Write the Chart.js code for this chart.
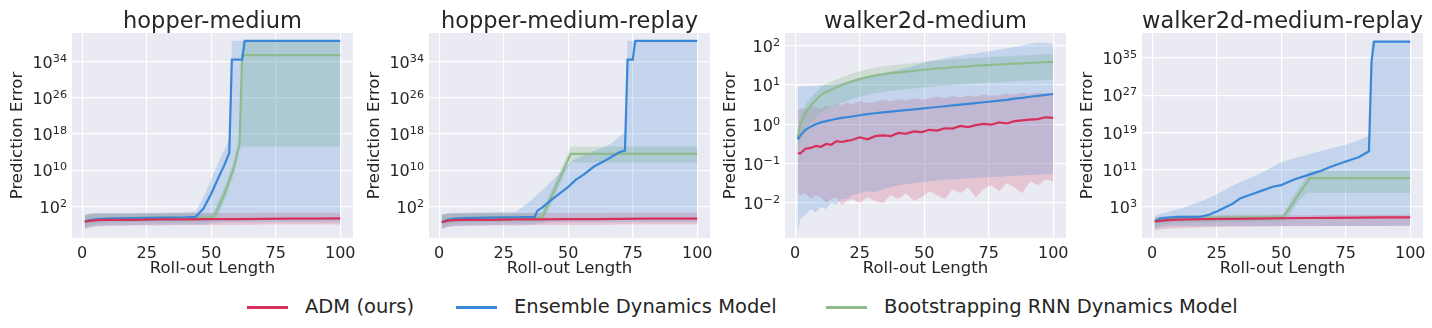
<!DOCTYPE html>
<html>
<head>
<meta charset="utf-8">
<script src="https://cdn.jsdelivr.net/npm/chart.js@4.4.0/dist/chart.umd.min.js"></script>
<style>
  body { margin: 0; background: #fff; width: 1432px; height: 328px; position: relative; overflow: hidden;
         font-family: 'DejaVu Sans', sans-serif; color: #262626; }
  .panel { position: absolute; top: 0; height: 290px; }
  .key { position: absolute; top: 295px; height: 24px; line-height: 24px; font-size: 19.5px; white-space: nowrap; }
  .swatch { position: absolute; top: 306px; width: 41px; height: 2.5px; }
</style>
</head>
<body>
<div class="panel" style="left:0px;width:373px"><canvas id="c1" width="373" height="290"></canvas></div>
<div class="panel" style="left:357px;width:373px"><canvas id="c2" width="373" height="290"></canvas></div>
<div class="panel" style="left:713px;width:373px"><canvas id="c3" width="373" height="290"></canvas></div>
<div class="panel" style="left:1070px;width:373px"><canvas id="c4" width="373" height="290"></canvas></div>

<div class="swatch" style="left:247px;background:#d6305a"></div>
<div class="key" style="left:305px">ADM (ours)</div>
<div class="swatch" style="left:456px;background:#3a87d7"></div>
<div class="key" style="left:514px">Ensemble Dynamics Model</div>
<div class="swatch" style="left:826px;background:#8fbc8f"></div>
<div class="key" style="left:884px">Bootstrapping RNN Dynamics Model</div>

<script>
// ============================== DATA ==============================
const xTicks = [0, 25, 50, 75, 100];
const hopperYTicks = [1e2, 1e10, 1e18, 1e26, 1e34];
const wmYTicks = [1e-2, 1e-1, 1e0, 1e1, 1e2];
const wmrYTicks = [1e3, 1e11, 1e19, 1e27, 1e35];

// hopper-medium
const hmRedX = [1, 3, 6, 10, 20, 30, 40, 50, 60, 70, 80, 90, 100];
const hmRedMean = [0.04, 0.063, 0.089, 0.1, 0.11, 0.13, 0.14, 0.16, 0.16, 0.18, 0.2, 0.2, 0.22];
const hmRedHi = [1.6, 2.5, 3.2, 3.2, 3.2, 3.2, 3.5, 3.5, 3.5, 4, 4, 4, 4];
const hmRedLo = [0.001, 0.0025, 0.004, 0.005, 0.0063, 0.0063, 0.008, 0.008, 0.008, 0.01, 0.01, 0.01, 0.01];
const hmBlueX = [1, 3, 6, 10, 20, 30, 40, 44, 47, 50, 53, 55, 57, 58, 62, 63, 100];
const hmBlueMean = [0.04, 0.1, 0.16, 0.2, 0.25, 0.32, 0.4, 0.5, 32, 6.3e4, 4e8, 1e11, 6.3e13, 2.5e34, 2.5e34, 3.4e38, 3.4e38];
const hmBlueHi = [1, 2.5, 3.2, 3.2, 3.2, 4, 5, 8, 1e4, 1e8, 1e12, 3.2e14, 5e16, 3.4e38, 3.4e38, 3.4e38, 3.4e38];
const hmBlueLo = [0.001, 0.0032, 0.005, 0.0063, 0.008, 0.01, 0.01, 0.01, 0.01, 0.016, 0.025, 0.032, 0.032, 0.032, 0.032, 0.032, 0.032];
const hmGreenX = [1, 3, 6, 10, 20, 30, 40, 50, 51, 53, 56, 59, 61, 62, 100];
const hmGreenMean = [0.04, 0.1, 0.16, 0.2, 0.25, 0.32, 0.35, 0.4, 0.5, 100, 1e6, 1e11, 1e16, 2.5e35, 2.5e35];
const hmGreenHi = [1, 2, 2.5, 2.5, 2.5, 2.5, 2.8, 3.2, 6.3, 3.2e3, 3.2e7, 3.2e12, 3.2e17, 3.4e38, 3.4e38];
const hmGreenLo = [0.0025, 0.01, 0.016, 0.025, 0.032, 0.04, 0.04, 0.04, 0.05, 3.2, 3.2e4, 3.2e9, 3.2e14, 1.6e15, 1.6e15];

// hopper-medium-replay
const hmrRedX = [1, 3, 6, 10, 20, 30, 40, 50, 60, 70, 80, 90, 100];
const hmrRedMean = [0.032, 0.063, 0.089, 0.1, 0.11, 0.13, 0.14, 0.16, 0.16, 0.18, 0.2, 0.2, 0.2];
const hmrRedHi = [1.6, 2.5, 3.2, 3.2, 3.2, 3.2, 3.5, 3.5, 3.5, 4, 4, 4, 4];
const hmrRedLo = [0.001, 0.0025, 0.004, 0.005, 0.0063, 0.0063, 0.008, 0.008, 0.008, 0.01, 0.01, 0.01, 0.01];
const hmrBlueX = [1, 3, 6, 10, 20, 30, 37, 38, 40, 43, 47, 50, 53, 56, 60, 64, 67, 70, 72, 73, 75, 76, 100];
const hmrBlueMean = [0.032, 0.1, 0.2, 0.25, 0.32, 0.4, 0.5, 10, 63, 1.6e3, 1e5, 2e6, 7.9e7, 1e9, 6.3e10, 1e12, 1e13, 1e14, 2e14, 2.5e34, 2.5e34, 3.4e38, 3.4e38];
const hmrBlueHi = [1.6, 3.2, 4, 4, 5, 6.3, 1e4, 5e4, 3.2e5, 2e7, 3.2e9, 2e11, 4e12, 2e13, 1.6e14, 1.3e15, 1e16, 3.2e17, 2.5e18, 3.4e38, 3.4e38, 3.4e38, 3.4e38];
const hmrBlueLo = [0.001, 0.0032, 0.005, 0.0063, 0.008, 0.01, 0.01, 0.016, 0.02, 0.032, 0.032, 0.032, 0.032, 0.032, 0.032, 0.032, 0.032, 0.032, 0.032, 0.032, 0.032, 0.032, 0.032];
const hmrGreenX = [1, 3, 6, 10, 20, 30, 39, 40, 43, 46, 49, 51, 100];
const hmrGreenMean = [0.032, 0.1, 0.2, 0.25, 0.32, 0.35, 0.4, 0.5, 3.2e3, 2e7, 1.3e11, 4e13, 4e13];
const hmrGreenHi = [1, 2, 2.5, 2.5, 3.2, 3.2, 4, 6.3, 1e5, 6.3e8, 4e12, 1.6e15, 1.6e15];
const hmrGreenLo = [0.0025, 0.01, 0.016, 0.025, 0.032, 0.032, 0.04, 0.032, 100, 6.3e5, 4e9, 5e11, 5e11];

// walker2d-medium
const wmX = [1, 2, 4, 6, 8, 10, 12, 14, 16, 18, 20, 22, 25, 28, 31, 34, 37, 40, 43, 46, 49, 52, 55, 58, 61, 64, 67, 70, 73, 76, 79, 82, 85, 88, 91, 94, 97, 100];
const wmRedMean = [0.186, 0.182, 0.24, 0.251, 0.282, 0.269, 0.316, 0.302, 0.372, 0.355, 0.38, 0.398, 0.468, 0.417, 0.501, 0.525, 0.501, 0.603, 0.575, 0.661, 0.631, 0.724, 0.692, 0.794, 0.776, 0.912, 0.851, 0.955, 1.02, 0.977, 1.12, 1.05, 1.2, 1.26, 1.32, 1.35, 1.51, 1.45];
const wmRedHi = [2.24, 2.6, 2.4, 2.9, 2.7, 2.5, 3.0, 2.8, 3.3, 3.1, 3.6, 3.2, 3.9, 3.5, 3.7, 4.2, 3.8, 4.3, 4.0, 4.6, 4.2, 4.5, 5.0, 4.6, 5.2, 4.8, 5.4, 5.0, 5.7, 5.3, 5.5, 6.0, 5.6, 6.3, 5.8, 6.5, 6.1, 6.3];
const wmRedLo = [0.02, 0.0158, 0.0178, 0.0126, 0.0158, 0.0141, 0.01, 0.0126, 0.0141, 0.0089, 0.0112, 0.0126, 0.01, 0.0141, 0.0112, 0.01, 0.0158, 0.0126, 0.0178, 0.0112, 0.0141, 0.02, 0.0158, 0.0126, 0.0224, 0.0178, 0.0251, 0.0141, 0.0224, 0.0282, 0.02, 0.0316, 0.0251, 0.0178, 0.0355, 0.0282, 0.0398, 0.0355];
const wmBlueMean = [0.407, 0.525, 0.724, 0.871, 1.0, 1.12, 1.2, 1.29, 1.38, 1.45, 1.51, 1.58, 1.7, 1.82, 1.91, 2.0, 2.09, 2.19, 2.29, 2.4, 2.51, 2.63, 2.75, 2.88, 3.02, 3.16, 3.31, 3.47, 3.63, 3.8, 3.98, 4.17, 4.47, 4.68, 5.01, 5.25, 5.62, 5.89];
const wmBlueHi = [8.91, 9.12, 9.33, 9.12, 9.55, 9.77, 10, 9.77, 10.5, 11.2, 12.0, 13.2, 15.1, 16.6, 18.6, 20, 21.9, 24.0, 26.9, 30.2, 35.5, 39.8, 43.7, 47.9, 52.5, 55.0, 60.3, 63.1, 69.2, 72.4, 79.4, 85.1, 91.2, 100, 112, 120, 117, 112];
const wmBlueLo = [0.00178, 0.00398, 0.00501, 0.00708, 0.00562, 0.00794, 0.00708, 0.01, 0.0089, 0.0126, 0.0126, 0.0158, 0.0178, 0.02, 0.0191, 0.0224, 0.0251, 0.0282, 0.0302, 0.0316, 0.0339, 0.0355, 0.0372, 0.0389, 0.0398, 0.0407, 0.0427, 0.0437, 0.0447, 0.0457, 0.0468, 0.0479, 0.049, 0.0501, 0.0513, 0.0525, 0.0537, 0.055];
const wmGreenMean = [0.447, 1, 2.0, 3.02, 4.17, 5.62, 6.61, 7.59, 8.71, 9.77, 11.0, 12.3, 14.1, 15.8, 17.4, 18.6, 20.0, 20.9, 21.9, 22.9, 24.0, 25.1, 26.3, 26.9, 28.2, 28.8, 29.5, 30.9, 31.6, 32.4, 33.1, 33.9, 34.7, 35.5, 36.3, 37.2, 38.0, 38.0];
const wmGreenHi = [0.71, 1.58, 3.16, 4.79, 6.61, 8.91, 10.5, 12.0, 13.8, 15.5, 17.4, 19.5, 22.4, 25.1, 27.5, 29.5, 31.6, 33.1, 34.7, 36.3, 38.0, 39.8, 41.7, 42.7, 44.7, 45.7, 46.8, 49.0, 50.1, 51.3, 52.5, 53.7, 55.0, 56.2, 57.5, 58.9, 60.3, 60.3];
const wmGreenLo = [0.159, 0.355, 0.71, 1.07, 1.48, 2.0, 2.35, 2.69, 3.09, 3.47, 3.9, 4.37, 5.0, 5.62, 6.17, 6.61, 7.1, 7.4, 7.8, 8.1, 8.5, 8.9, 9.3, 9.55, 10.0, 10.2, 10.5, 11.0, 11.2, 11.5, 11.7, 12.0, 12.3, 12.6, 12.9, 13.2, 13.5, 13.5];

// walker2d-medium-replay
const wmrRedX = [1, 3, 6, 10, 20, 30, 40, 50, 60, 70, 80, 90, 100];
const wmrRedMean = [0.5, 0.79, 1.12, 1.41, 1.78, 2.0, 2.24, 2.82, 3.16, 3.55, 3.98, 4.17, 4.47];
const wmrRedHi = [3.2, 4, 5, 6.3, 7.9, 10, 10, 12.6, 12.6, 15.8, 15.8, 15.8, 17.8];
const wmrRedLo = [0.0063, 0.01, 0.016, 0.02, 0.032, 0.04, 0.045, 0.05, 0.056, 0.063, 0.063, 0.071, 0.079];
const wmrBlueX = [1, 3, 6, 10, 15, 19, 22, 25, 28, 31, 34, 38, 42, 47, 50, 55, 60, 65, 70, 75, 80, 84, 85, 86, 100];
const wmrBlueMean = [0.63, 2.5, 4, 5.6, 5.6, 6.3, 16, 79, 500, 3.2e3, 5e4, 3.2e5, 2e6, 2e7, 4e7, 6.3e8, 5e9, 4e10, 5e11, 5e12, 4e13, 7.9e14, 2e34, 3.4e38, 3.4e38];
const wmrBlueHi = [10, 25, 63, 250, 2e3, 1.3e4, 6.3e4, 4e5, 3.2e6, 2.5e7, 1.6e8, 1.6e9, 1.3e10, 4e11, 3.2e12, 2.5e13, 1.3e14, 7.9e14, 4e15, 2e16, 1.6e17, 2e18, 3.4e38, 3.4e38, 3.4e38];
const wmrBlueLo = [0.016, 0.032, 0.05, 0.063, 0.063, 0.063, 0.063, 0.063, 0.063, 0.063, 0.063, 0.063, 0.063, 0.063, 0.063, 0.063, 0.063, 0.063, 0.063, 0.063, 0.063, 0.063, 0.063, 0.063, 0.063];
const wmrGreenX = [1, 3, 6, 10, 20, 30, 40, 50, 51, 54, 57, 60, 61, 100];
const wmrGreenMean = [0.63, 1.58, 2.24, 2.82, 3.55, 4, 4.47, 5, 7.1, 1.6e3, 6.3e5, 1.6e8, 1.3e9, 1.3e9];
const wmrGreenHi = [3.2, 6.3, 8.9, 11.2, 14.1, 15.8, 17.8, 20, 32, 4e4, 1.6e7, 6.3e9, 4e10, 4e10];
const wmrGreenLo = [0.032, 0.126, 0.2, 0.28, 0.35, 0.4, 0.45, 0.5, 0.63, 63, 2.5e4, 7.9e5, 7.9e5, 7.9e5];

// ============================== STYLE ==============================
const RED = '#d6305a', BLUE = '#3a87d7', GREEN = '#8fbc8f';
const RED_BAND = 'rgba(214,48,90,0.2)', BLUE_BAND = 'rgba(58,135,215,0.22)', GREEN_BAND = 'rgba(143,188,143,0.3)';
const FONT = "'DejaVu Sans', sans-serif";

Chart.defaults.font.family = FONT;
Chart.defaults.color = '#262626';

function pts(xs, ys) {
    return xs.map((x, i) => ({x: x, y: ys[i]}));
}

// upper edge fills down to the lower edge pushed right after it
function bandSets(xs, lo, hi, color) {
    return [
        {data: pts(xs, hi), borderWidth: 0, pointRadius: 0, fill: '+1', backgroundColor: color, order: 2},
        {data: pts(xs, lo), borderWidth: 0, pointRadius: 0, fill: false, order: 2}
    ];
}

function lineSet(xs, ys, color, order) {
    return {data: pts(xs, ys), borderColor: color, borderWidth: 2.2, pointRadius: 0, fill: false, order: order, tension: 0};
}

const plotBg = {
    id: 'plotBg',
    beforeDraw(chart) {
        const {ctx, chartArea: a} = chart;
        ctx.save();
        ctx.fillStyle = '#eaeaf2';
        ctx.fillRect(a.left, a.top, a.right - a.left, a.bottom - a.top);
        ctx.restore();
    }
};

// y tick labels written as 10 with a raised exponent, like matplotlib's log axis
const powTicks = {
    id: 'powTicks',
    afterDraw(chart) {
        const s = chart.scales.y, ctx = chart.ctx;
        const right = chart.chartArea.left - 5;
        ctx.save();
        ctx.fillStyle = '#262626';
        ctx.textAlign = 'left';
        ctx.textBaseline = 'alphabetic';
        s.ticks.forEach(t => {
            const y = s.getPixelForValue(t.value);
            const exp = String(Math.round(Math.log10(t.value))).replace('-', '\u2212');
            ctx.font = '11.2px ' + FONT;
            const w2 = ctx.measureText(exp).width;
            ctx.font = '16px ' + FONT;
            const w1 = ctx.measureText('10').width;
            ctx.fillText('10', right - w2 - w1, y + 6.3);
            ctx.font = '11.2px ' + FONT;
            ctx.fillText(exp, right - w2, y + 0.3);
        });
        ctx.restore();
    }
};

function makePanel(id, title, yMin, yMax, yTicks, datasets) {
    const ctx = document.getElementById(id).getContext('2d');
    new Chart(ctx, {
        type: 'line',
        data: {datasets: datasets},
        plugins: [plotBg, powTicks],
        options: {
            responsive: false,
            animation: false,
            layout: {padding: {left: 0, right: 20, top: 0, bottom: 0}},
            plugins: {
                legend: {display: false},
                tooltip: {enabled: false},
                title: {
                    display: true, text: title, color: '#262626', fullSize: false,
                    font: {size: 22.5, weight: 'normal', lineHeight: 1.0},
                    padding: {top: 10.5, bottom: 0}
                }
            },
            scales: {
                x: {
                    type: 'linear', min: -3.95, max: 104.95,
                    afterBuildTicks: s => { s.ticks = xTicks.map(v => ({value: v})); },
                    afterFit: s => { s.height = 52; },
                    grid: {color: '#ffffff', lineWidth: 1.2, drawTicks: false},
                    border: {display: false},
                    ticks: {font: {size: 16}, padding: 6, maxRotation: 0, autoSkip: false},
                    title: {display: true, text: 'Roll-out Length', font: {size: 16.5}, padding: {top: 0, bottom: 11.8}}
                },
                y: {
                    type: 'logarithmic', min: yMin, max: yMax,
                    afterBuildTicks: s => { s.ticks = yTicks.map(v => ({value: v})); },
                    afterFit: s => { s.width = 72; },
                    grid: {color: '#ffffff', lineWidth: 1.2, drawTicks: false},
                    border: {display: false},
                    ticks: {display: false},
                    title: {display: true, text: 'Prediction Error', font: {size: 16.5}, padding: {top: 7.6, bottom: 0}}
                }
            }
        }
    });
}

makePanel('c1', 'hopper-medium', 1.05e-5, 1.86e40, hopperYTicks, [
    ...bandSets(hmBlueX, hmBlueLo, hmBlueHi, BLUE_BAND),
    ...bandSets(hmGreenX, hmGreenLo, hmGreenHi, GREEN_BAND),
    ...bandSets(hmRedX, hmRedLo, hmRedHi, RED_BAND),
    lineSet(hmBlueX, hmBlueMean, BLUE, 1),
    lineSet(hmGreenX, hmGreenMean, GREEN, 1),
    lineSet(hmRedX, hmRedMean, RED, 0)
]);

makePanel('c2', 'hopper-medium-replay', 1.05e-5, 1.86e40, hopperYTicks, [
    ...bandSets(hmrBlueX, hmrBlueLo, hmrBlueHi, BLUE_BAND),
    ...bandSets(hmrGreenX, hmrGreenLo, hmrGreenHi, GREEN_BAND),
    ...bandSets(hmrRedX, hmrRedLo, hmrRedHi, RED_BAND),
    lineSet(hmrBlueX, hmrBlueMean, BLUE, 1),
    lineSet(hmrGreenX, hmrGreenMean, GREEN, 1),
    lineSet(hmrRedX, hmrRedMean, RED, 0)
]);

makePanel('c3', 'walker2d-medium', 1.29e-3, 209, wmYTicks, [
    ...bandSets(wmX, wmBlueLo, wmBlueHi, BLUE_BAND),
    ...bandSets(wmX, wmGreenLo, wmGreenHi, GREEN_BAND),
    ...bandSets(wmX, wmRedLo, wmRedHi, RED_BAND),
    lineSet(wmX, wmBlueMean, BLUE, 1),
    lineSet(wmX, wmGreenMean, GREEN, 1),
    lineSet(wmX, wmRedMean, RED, 0)
]);

makePanel('c4', 'walker2d-medium-replay', 1.55e-4, 2.45e40, wmrYTicks, [
    ...bandSets(wmrBlueX, wmrBlueLo, wmrBlueHi, BLUE_BAND),
    ...bandSets(wmrGreenX, wmrGreenLo, wmrGreenHi, GREEN_BAND),
    ...bandSets(wmrRedX, wmrRedLo, wmrRedHi, RED_BAND),
    lineSet(wmrBlueX, wmrBlueMean, BLUE, 1),
    lineSet(wmrGreenX, wmrGreenMean, GREEN, 1),
    lineSet(wmrRedX, wmrRedMean, RED, 0)
]);
</script>
</body>
</html>
